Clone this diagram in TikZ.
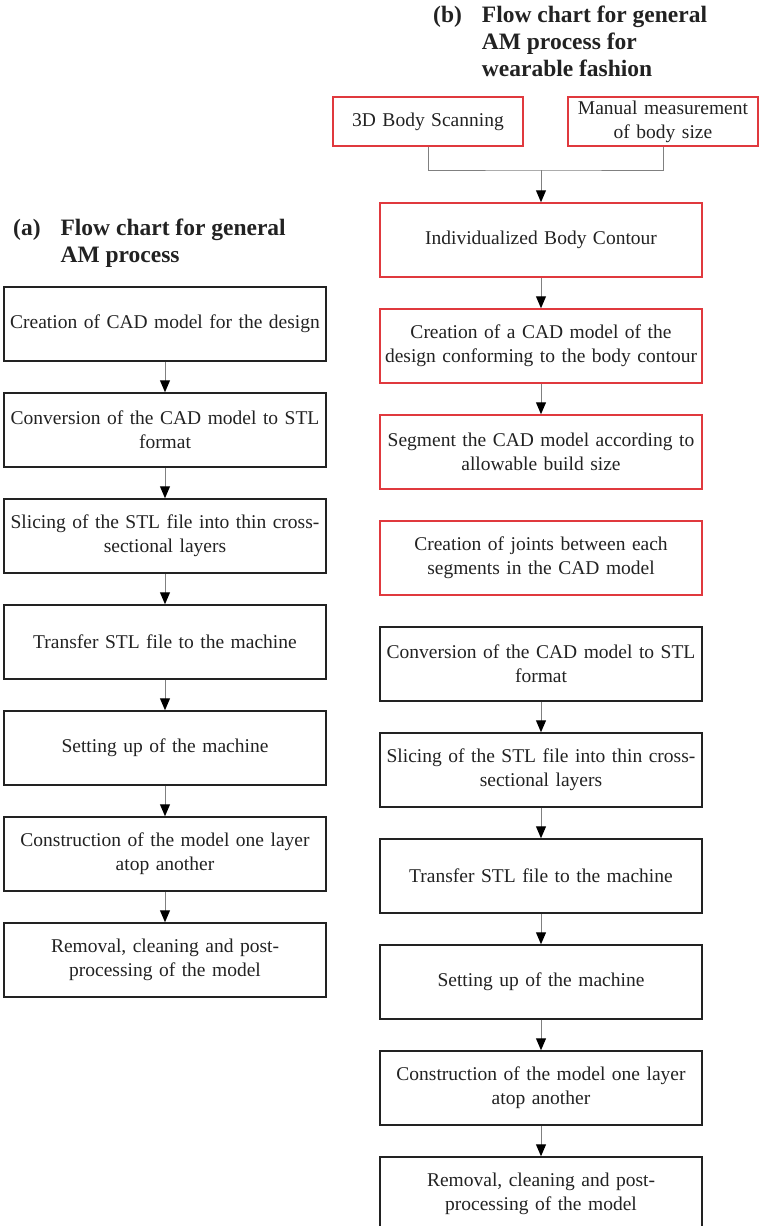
\documentclass[tikz,border=0pt]{standalone}
\usepackage{fontspec}
\setmainfont{Liberation Serif}
\usetikzlibrary{arrows.meta, positioning}
\definecolor{inkgray}{HTML}{222222}
\definecolor{linegray}{HTML}{808080}
\definecolor{boxred}{HTML}{E0393E}

\begin{document}
\begin{tikzpicture}[
  x=1pt, y=-1pt,
  >={Triangle[length=12pt, width=10pt, color=black]},
  stepbox/.style={draw=inkgray, line width=1.5pt, minimum width=322pt, minimum height=74pt,
                  text width=320pt, align=center, inner sep=0pt, text=inkgray,
                  font=\fontsize{19.5}{24}\selectfont},
  redbox/.style={stepbox, draw=boxred},
  flow/.style={linegray, line width=1pt, ->},
  heading/.style={anchor=base west, inner sep=0pt, text=inkgray,
                  font=\fontsize{23.5}{27}\selectfont\bfseries},
]

\useasboundingbox (0,0) rectangle (758,1226);

% ============ Left: general AM process ============
\node[heading] (ttla) at (13,235) {\begin{tabular}[t]{@{}l@{\hspace{20pt}}l@{}}(a)&Flow chart for general\\&AM process\end{tabular}};

\node[stepbox] (a1) at (165,324) {Creation of CAD model for the design};
\node[stepbox] (a2) at (165,430) {Conversion of the CAD model to STL\\format};
\node[stepbox] (a3) at (165,536) {Slicing of the STL file into thin cross-\\sectional layers};
\node[stepbox] (a4) at (165,642) {Transfer STL file to the machine};
\node[stepbox] (a5) at (165,748) {Setting up of the machine};
\node[stepbox] (a6) at (165,854) {Construction of the model one layer\\atop another};
\node[stepbox] (a7) at (165,960) {Removal, cleaning and post-\\processing of the model};

\draw[flow] (a1) -- (a2);
\draw[flow] (a2) -- (a3);
\draw[flow] (a3) -- (a4);
\draw[flow] (a4) -- (a5);
\draw[flow] (a5) -- (a6);
\draw[flow] (a6) -- (a7);

% ============ Right: AM process for wearable fashion ============
\node[heading] (ttlb) at (433,23) {\begin{tabular}[t]{@{}l@{\hspace{20pt}}l@{}}(b)&Flow chart for general\\&AM process for\\&wearable fashion\end{tabular}};

% Body size inputs
\node[redbox, minimum width=190pt, minimum height=49pt, text width=188pt] (scan) at (428,121.5) {3D Body Scanning};
\node[redbox, minimum width=190pt, minimum height=49pt, text width=188pt] (manual) at (663,121.5) {Manual measurement\\of body size};
\coordinate (merge) at (541,170);
\draw[linegray, line width=1pt] (scan.south) |- (merge) -| (manual.south);

% Design steps (red)
\node[redbox] (b1) at (541,240) {Individualized Body Contour};
\node[redbox] (b2) at (541,346) {Creation of a CAD model of the\\design conforming to the body contour};
\node[redbox] (b3) at (541,452) {Segment the CAD model according to\\allowable build size};
\node[redbox] (b4) at (541,558) {Creation of joints between each\\segments in the CAD model};

% Build steps
\node[stepbox] (b5) at (541,664) {Conversion of the CAD model to STL\\format};
\node[stepbox] (b6) at (541,770) {Slicing of the STL file into thin cross-\\sectional layers};
\node[stepbox] (b7) at (541,876) {Transfer STL file to the machine};
\node[stepbox] (b8) at (541,982) {Setting up of the machine};
\node[stepbox] (b9) at (541,1088) {Construction of the model one layer\\atop another};
\node[stepbox] (b10) at (541,1194) {Removal, cleaning and post-\\processing of the model};

\draw[flow] (merge) -- (b1);
\draw[flow] (b1) -- (b2);
\draw[flow] (b2) -- (b3);
\draw[flow] (b5) -- (b6);
\draw[flow] (b6) -- (b7);
\draw[flow] (b7) -- (b8);
\draw[flow] (b8) -- (b9);
\draw[flow] (b9) -- (b10);

\end{tikzpicture}
\end{document}
